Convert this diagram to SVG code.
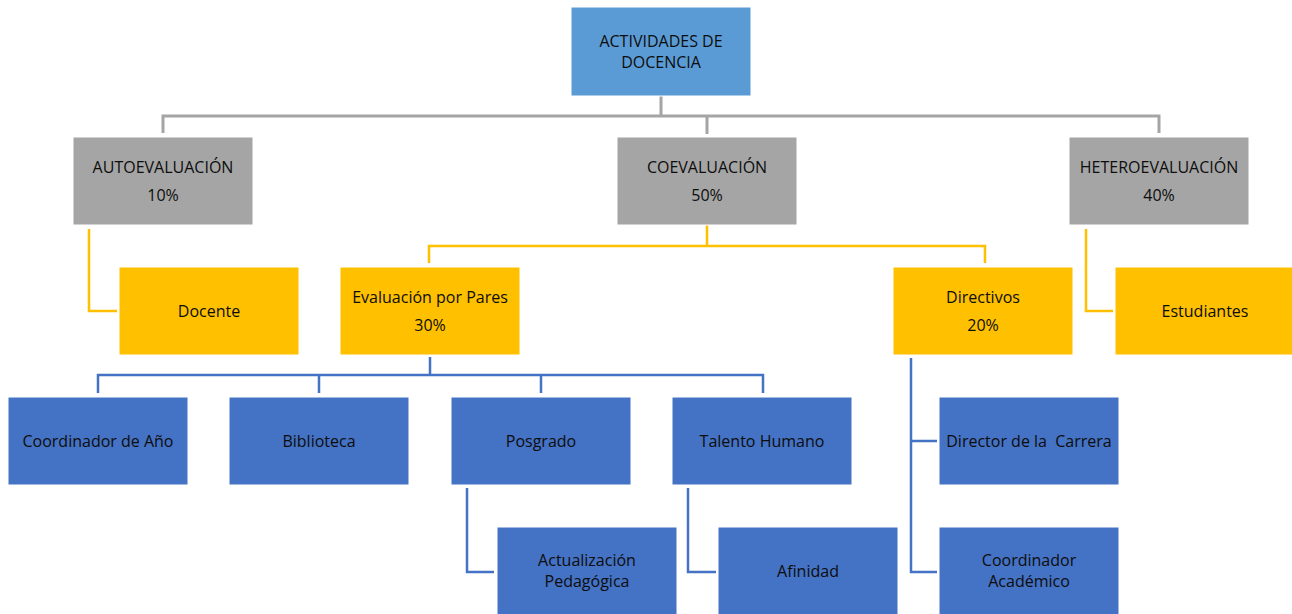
<svg xmlns="http://www.w3.org/2000/svg" width="1292" height="614" viewBox="0 0 1292 614">
<style>
text{font-family:"Open Sans","Noto Sans","Liberation Sans",sans-serif;font-size:16px;fill:#0d0d0d;text-anchor:middle}
.top{fill:#5B9BD5;stroke:#ffffff;stroke-width:1}
.gray{fill:#A5A5A5;stroke:#ffffff;stroke-width:1}
.yel{fill:#FFC000;stroke:#ffffff;stroke-width:1}
.blue{fill:#4472C4;stroke:#ffffff;stroke-width:1}
.cg{fill:none;stroke:#A5A5A5;stroke-width:3}
.cy{fill:none;stroke:#FFC000;stroke-width:2.5}
.cb{fill:none;stroke:#4472C4;stroke-width:2.5}
</style>
<rect width="1292" height="614" fill="#ffffff"/>
<g id="connectors">
<path class="cg" d="M661 96V116M163 133V116H1159V133M707 116V134"/>
<path class="cy" d="M707 225V246M429 263V246H985V263"/>
<path class="cy" d="M89 229V311H117"/>
<path class="cy" d="M1086 229V311H1113"/>
<path class="cb" d="M430 357V375M98 393V375H763V393M319 375V393M541 375V393"/>
<path class="cb" d="M467 488V572H494"/>
<path class="cb" d="M688 488V572H716"/>
<path class="cb" d="M911 358V572H937M911 441H937"/>
</g>
<g id="n-actividades"><rect class="top" x="571" y="7" width="180" height="89"/><text x="661" y="47">ACTIVIDADES DE</text><text x="661" y="68">DOCENCIA</text></g>
<g id="n-auto"><rect class="gray" x="73" y="137" width="180" height="88"/><text x="163" y="173">AUTOEVALUACIÓN</text><text x="163" y="201">10%</text></g>
<g id="n-coev"><rect class="gray" x="617" y="137" width="180" height="88"/><text x="707" y="173">COEVALUACIÓN</text><text x="707" y="201">50%</text></g>
<g id="n-hetero"><rect class="gray" x="1069" y="137" width="180" height="88"/><text x="1159" y="173">HETEROEVALUACIÓN</text><text x="1159" y="201">40%</text></g>
<g id="n-docente"><rect class="yel" x="119" y="267" width="180" height="88"/><text x="209" y="317">Docente</text></g>
<g id="n-pares"><rect class="yel" x="340" y="267" width="180" height="88"/><text x="430" y="303">Evaluación por Pares</text><text x="430" y="331">30%</text></g>
<g id="n-directivos"><rect class="yel" x="893" y="267" width="180" height="88"/><text x="983" y="303">Directivos</text><text x="983" y="331">20%</text></g>
<g id="n-estudiantes"><rect class="yel" x="1115" y="267" width="180" height="88"/><text x="1205" y="317">Estudiantes</text></g>
<g id="n-coordano"><rect class="blue" x="8" y="397" width="180" height="88"/><text x="98" y="447">Coordinador de Año</text></g>
<g id="n-biblioteca"><rect class="blue" x="229" y="397" width="180" height="88"/><text x="319" y="447">Biblioteca</text></g>
<g id="n-posgrado"><rect class="blue" x="451" y="397" width="180" height="88"/><text x="541" y="447">Posgrado</text></g>
<g id="n-talento"><rect class="blue" x="672" y="397" width="180" height="88"/><text x="762" y="447">Talento Humano</text></g>
<g id="n-director"><rect class="blue" x="939" y="397" width="180" height="88"/><text x="1029" y="447" xml:space="preserve">Director de la  Carrera</text></g>
<g id="n-actualizacion"><rect class="blue" x="497" y="527" width="180" height="90"/><text x="587" y="566">Actualización</text><text x="587" y="587">Pedagógica</text></g>
<g id="n-afinidad"><rect class="blue" x="718" y="527" width="180" height="90"/><text x="808" y="577">Afinidad</text></g>
<g id="n-coordacad"><rect class="blue" x="939" y="527" width="180" height="90"/><text x="1029" y="566">Coordinador</text><text x="1029" y="587">Académico</text></g>
</svg>
